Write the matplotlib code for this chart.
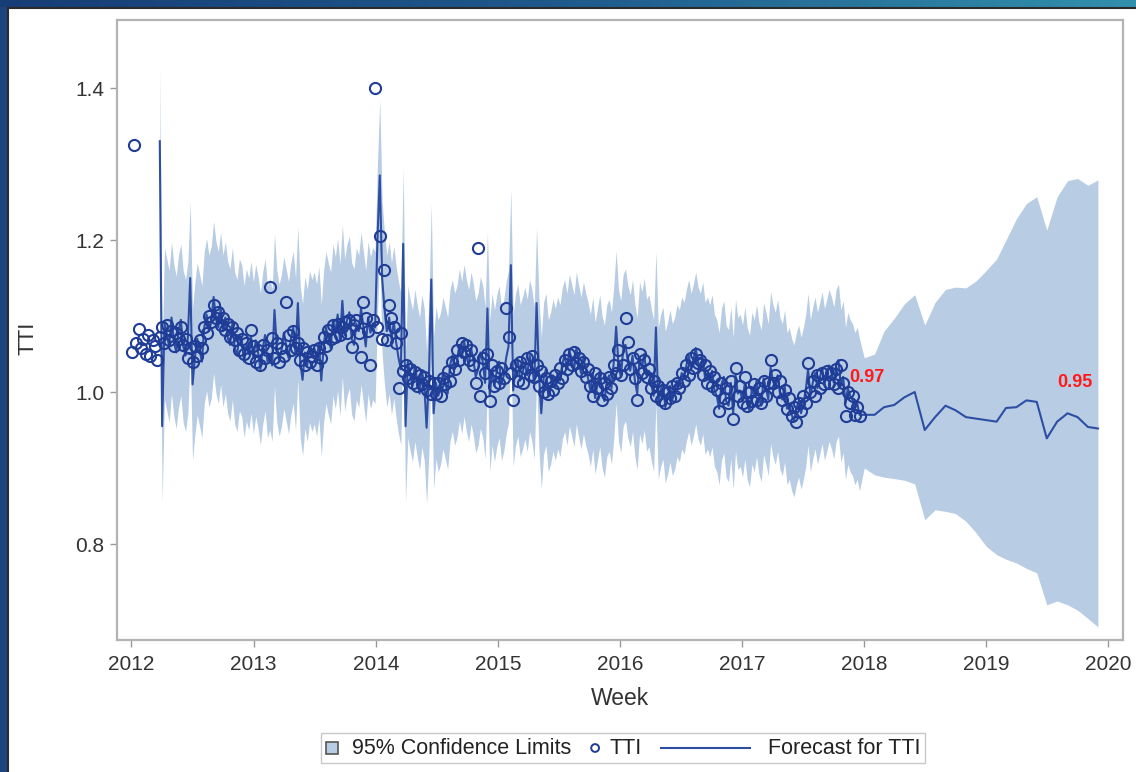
import matplotlib.pyplot as plt
import matplotlib.dates as mdates
import numpy as np
import pandas as pd
from matplotlib.colors import LinearSegmentedColormap
from matplotlib.patches import Rectangle, Circle
from matplotlib.lines import Line2D
from matplotlib.offsetbox import AnchoredOffsetbox, DrawingArea, HPacker, TextArea

plt.rcParams["font.family"] = ["Liberation Sans", "DejaVu Sans"]

# weekly observed TTI, 13 weeks per row (one quarter), starting 2012-01-02
tti_2012 = [1.052, 1.325, 1.065, 1.083, 1.058, 1.070, 1.050, 1.075, 1.048, 1.068, 1.060, 1.042, 1.072,
            1.085, 1.065, 1.088, 1.068, 1.080, 1.060, 1.078, 1.070, 1.085, 1.062, 1.070, 1.045, 1.058,
            1.040, 1.060, 1.048, 1.068, 1.058, 1.085, 1.078, 1.100, 1.092, 1.114, 1.098, 1.105, 1.088,
            1.098, 1.082, 1.090, 1.072, 1.085, 1.068, 1.078, 1.055, 1.070, 1.050, 1.065, 1.045, 1.082]
tti_2013 = [1.060, 1.040, 1.055, 1.035, 1.062, 1.045, 1.055, 1.138, 1.071, 1.045, 1.065, 1.040, 1.058,
            1.048, 1.118, 1.075, 1.055, 1.080, 1.058, 1.065, 1.042, 1.058, 1.035, 1.052, 1.040, 1.048,
            1.055, 1.035, 1.058, 1.045, 1.072, 1.060, 1.082, 1.070, 1.088, 1.072, 1.090, 1.075, 1.085,
            1.092, 1.078, 1.095, 1.059, 1.088, 1.095, 1.078, 1.046, 1.118, 1.098, 1.080, 1.035, 1.095]
tti_2014 = [1.400, 1.085, 1.205, 1.070, 1.160, 1.068, 1.115, 1.097, 1.085, 1.065, 1.005, 1.078, 1.028,
            1.035, 1.018, 1.030, 1.012, 1.026, 1.008, 1.022, 1.010, 1.020, 1.002, 1.015, 0.998, 1.012,
            0.998, 1.012, 0.995, 1.018, 1.010, 1.028, 1.015, 1.040, 1.030, 1.055, 1.042, 1.065, 1.052,
            1.062, 1.042, 1.055, 1.035, 1.012, 1.190, 0.995, 1.045, 1.025, 1.050, 0.988, 1.035, 1.008]
tti_2015 = [1.028, 1.012, 1.032, 1.018, 1.110, 1.072, 1.025, 0.990, 1.035, 1.015, 1.040, 1.012, 1.032,
            1.045, 1.022, 1.048, 1.020, 1.035, 1.008, 1.028, 1.000, 1.018, 0.998, 1.015, 1.002, 1.022,
            1.012, 1.032, 1.018, 1.042, 1.030, 1.050, 1.035, 1.052, 1.038, 1.045, 1.028, 1.040, 1.020,
            1.030, 1.008, 0.995, 1.025, 1.005, 1.018, 0.990, 1.012, 0.998, 1.020, 1.005, 1.035, 1.025]
tti_2016 = [1.055, 1.022, 1.035, 1.098, 1.066, 1.030, 1.045, 1.018, 0.990, 1.050, 1.025, 1.042, 1.020,
            1.030, 1.005, 1.015, 0.995, 1.008, 0.990, 1.002, 0.985, 1.000, 0.992, 1.008, 0.995, 1.012,
            1.005, 1.025, 1.015, 1.035, 1.022, 1.045, 1.032, 1.050, 1.038, 1.042, 1.022, 1.035, 1.012,
            1.028, 1.008, 1.020, 1.002, 0.975, 1.012, 0.992, 1.005, 0.985, 1.015, 0.965, 1.032, 0.995]
tti_2017 = [1.008, 0.985, 1.020, 0.982, 1.000, 0.988, 1.010, 0.990, 1.005, 0.985, 1.015, 0.995, 1.012,
            1.042, 1.012, 1.022, 1.000, 1.015, 0.990, 1.002, 0.978, 0.992, 0.968, 0.980, 0.960, 0.985,
            0.975, 0.995, 0.985, 1.038, 1.000, 1.015, 0.995, 1.022, 1.005, 1.025, 1.010, 1.028, 1.012,
            1.025, 1.010, 1.030, 1.005, 1.035, 1.012, 0.968, 1.000, 0.985, 0.995, 0.970, 0.980, 0.968]

# one-step-ahead forecast, weekly, starting at week 12 of 2012
fc_2012 = [1.330,
           0.955, 1.090, 1.075, 1.060, 1.098, 1.068, 1.052, 1.080, 1.095, 1.060, 1.048, 1.072, 1.150,
           1.010, 1.045, 1.070, 1.055, 1.040, 1.085, 1.102, 1.080, 1.092, 1.125, 1.098, 1.085, 1.110,
           1.080, 1.098, 1.072, 1.062, 1.090, 1.058, 1.048, 1.075, 1.068, 1.040, 1.062, 1.050, 1.072]
fc_2013 = [1.045, 1.068, 1.052, 1.030, 1.058, 1.075, 1.040, 1.050, 1.035, 1.108, 1.060, 1.042, 1.055,
           1.078, 1.062, 1.045, 1.070, 1.085, 1.050, 1.117, 1.040, 1.016, 1.052, 1.035, 1.060, 1.048,
           1.058, 1.042, 1.065, 1.015, 1.060, 1.085, 1.070, 1.058, 1.095, 1.078, 1.102, 1.068, 1.120,
           1.075, 1.095, 1.105, 1.070, 1.062, 1.090, 1.080, 1.110, 1.085, 1.060, 1.098, 1.078, 1.090]
fc_2014 = [1.085, 1.200, 1.285, 1.150, 1.110, 1.080, 1.098, 1.070, 1.092, 1.065, 1.045, 1.030, 1.195,
           0.955, 1.040, 1.022, 1.008, 1.035, 1.015, 0.998, 1.028, 1.010, 0.953, 1.020, 1.148, 0.972,
           1.012, 0.995, 1.005, 1.025, 1.012, 0.998, 1.035, 1.048, 1.030, 1.040, 1.062, 1.045, 1.068,
           1.048, 1.035, 1.058, 1.042, 1.020, 1.030, 1.052, 1.040, 1.012, 1.110, 0.995, 1.030, 1.008]
fc_2015 = [1.028, 1.040, 1.010, 1.022, 1.045, 1.060, 1.167, 1.002, 1.030, 1.042, 1.015, 1.025, 1.038,
           1.022, 1.048, 1.035, 1.012, 1.117, 1.025, 0.972, 1.018, 1.030, 0.995, 1.005, 1.022, 1.010,
           1.025, 1.015, 1.038, 1.048, 1.030, 1.055, 1.042, 1.028, 1.058, 1.040, 1.025, 1.045, 1.030,
           1.018, 1.002, 1.025, 0.992, 1.010, 1.028, 1.000, 0.988, 1.015, 1.022, 1.005, 1.040, 1.086]
fc_2016 = [1.035, 1.020, 1.055, 1.062, 1.040, 1.028, 1.048, 1.015, 0.998, 1.045, 1.032, 1.050, 1.022,
           1.028, 1.010, 0.995, 1.085, 0.985, 1.002, 1.012, 0.980, 0.992, 1.008, 0.990, 0.998, 1.015,
           1.008, 1.025, 1.018, 1.035, 1.048, 1.030, 1.042, 1.058, 1.038, 1.030, 1.045, 1.018, 1.025,
           1.015, 1.028, 1.002, 0.995, 0.978, 1.010, 1.020, 0.988, 0.982, 1.012, 0.972, 1.022, 0.998]
fc_2017 = [1.002, 0.988, 1.012, 0.985, 0.975, 1.005, 0.995, 1.015, 0.992, 0.982, 1.018, 1.005, 0.990,
           1.032, 1.015, 1.005, 1.022, 0.998, 0.990, 1.008, 0.978, 0.985, 0.970, 0.962, 0.978, 0.988,
           0.972, 0.985, 1.002, 1.030, 0.995, 1.012, 1.025, 1.005, 1.018, 1.032, 1.010, 1.022, 1.035,
           1.025, 1.012, 1.035, 1.042, 1.008, 1.020, 0.985, 1.005, 0.995, 0.990, 0.978, 0.985, 0.970]
ci_half_width = 0.10  # in-sample 95% limits around the forecast

# monthly forecast beyond the data, Jan 2018 - Dec 2019
fc_future = [0.970, 0.970, 0.980, 0.983, 0.993, 1.000, 0.950, 0.967, 0.982, 0.976, 0.967, 0.965,
             0.963, 0.961, 0.979, 0.980, 0.989, 0.987, 0.939, 0.961, 0.972, 0.967, 0.954, 0.952]
lo_future = [0.900, 0.891, 0.888, 0.886, 0.884, 0.879, 0.832, 0.845, 0.843, 0.840, 0.830, 0.815,
             0.797, 0.786, 0.780, 0.775, 0.768, 0.762, 0.720, 0.725, 0.720, 0.713, 0.702, 0.691]
hi_future = [1.045, 1.050, 1.080, 1.097, 1.116, 1.128, 1.088, 1.118, 1.135, 1.138, 1.137, 1.146,
             1.160, 1.175, 1.200, 1.228, 1.248, 1.257, 1.213, 1.257, 1.278, 1.281, 1.272, 1.279]

tti = np.array(tti_2012 + tti_2013 + tti_2014 + tti_2015 + tti_2016 + tti_2017)
fc_in = np.array(fc_2012 + fc_2013 + fc_2014 + fc_2015 + fc_2016 + fc_2017)
weeks = pd.date_range("2012-01-02", periods=len(tti), freq="7D")
fc_weeks = weeks[len(weeks) - len(fc_in):]
months = pd.date_range("2018-01-01", periods=len(fc_future), freq="MS")

band_x = fc_weeks.append(months)
band_lo = np.concatenate([fc_in - ci_half_width, lo_future])
band_hi = np.concatenate([fc_in + ci_half_width, hi_future])
fc_all = np.concatenate([fc_in, fc_future])

band_col = "#b8cce4"
dark_blue = "#1f3c96"
line_blue = "#2c4ea3"

W, H = 1136, 772
fig = plt.figure(figsize=(W / 100, H / 100), dpi=100, facecolor="#1c4580")

# gradient strip at the top of the slide
ax_top = fig.add_axes([0, 1 - 7 / H, 1, 7 / H], zorder=-10)
grad = LinearSegmentedColormap.from_list("g", ["#173d76", "#1f5a8c", "#3290ad"])
ax_top.imshow(np.linspace(0, 1, 256)[None, :], cmap=grad, aspect="auto")
ax_top.axis("off")

# white panel
fig.add_artist(Rectangle((8 / W, -0.01), 1, 1 - 8 / H + 0.01, transform=fig.transFigure,
                         facecolor="white", edgecolor="#2b2b2b", lw=1.5, zorder=-5))

ax = fig.add_axes([117 / W, 1 - 640 / H, (1123 - 117) / W, (640 - 20) / H])
ax.fill_between(band_x, band_lo, band_hi, color=band_col, lw=0, zorder=1)
ax.plot(band_x, fc_all, color=line_blue, lw=1.5, zorder=2)
ax.plot(weeks, tti, ls="none", marker="o", ms=8, mfc="none", mec=dark_blue, mew=1.5, zorder=3)

ax.annotate(f"{fc_future[0]:.2f}", xy=(months[0], fc_future[0]), xytext=(-11, 27),
            textcoords="offset points", ha="left", va="center", color="#ff1a1a",
            fontsize=13, fontweight="bold")
ax.annotate(f"{fc_future[-1]:.2f}", xy=(months[-1], fc_future[-1]), xytext=(-4, 33),
            textcoords="offset points", ha="right", va="center", color="#ff1a1a",
            fontsize=13, fontweight="bold")

ax.set_xlim(pd.Timestamp("2011-11-19"), pd.Timestamp("2020-02-14"))
ax.set_ylim(0.6737, 1.4895)
ax.xaxis.set_major_locator(mdates.YearLocator())
ax.xaxis.set_major_formatter(mdates.DateFormatter("%Y"))
ax.set_yticks([0.8, 1.0, 1.2, 1.4])
ax.set_yticklabels(["0.8", "1.0", "1.2", "1.4"])
ax.tick_params(direction="out", length=5, width=1, color="#999999",
               labelsize=15, labelcolor="#333333", pad=4)
ax.tick_params(axis="x", pad=6)
for s in ax.spines.values():
    s.set_color("#b3b3b3")
    s.set_linewidth(1.6)

ax.set_xlabel("Week", fontsize=16.5, color="#333333", labelpad=9)
ax.set_ylabel("TTI", fontsize=16, color="#333333")
ax.yaxis.set_label_coords(-0.078, 0.487)

# legend row
fs = 15.5
da_sq = DrawingArea(9, 9, 0, 0)
da_sq.add_artist(Rectangle((0, 0), 9, 9, facecolor=band_col, edgecolor="#555555", lw=1.2))
da_ci = DrawingArea(6.5, 9, 0, 0)
da_ci.add_artist(Circle((3.25, 4.5), 2.8, facecolor="none", edgecolor=dark_blue, lw=1.4))
da_ln = DrawingArea(64, 9, 0, 0)
da_ln.add_artist(Line2D([0, 64], [4.5, 4.5], color=line_blue, lw=1.5))
txt = dict(color="#222222", fontsize=fs)
items = HPacker(children=[
    HPacker(children=[da_sq, TextArea("95% Confidence Limits", textprops=txt)], sep=10, align="center"),
    HPacker(children=[da_ci, TextArea("TTI", textprops=txt)], sep=7, align="center"),
    HPacker(children=[da_ln, TextArea("Forecast for TTI", textprops=txt)], sep=13, align="center"),
], sep=14, align="center")
leg = AnchoredOffsetbox(loc="center", child=items, pad=0.35, borderpad=0, frameon=True,
                        bbox_to_anchor=(623 / W, 1 - 748 / H), bbox_transform=fig.transFigure)
leg.patch.set_edgecolor("#c8c8c8")
leg.patch.set_linewidth(1)
fig.add_artist(leg)

plt.savefig("out.png", dpi=100, facecolor=fig.get_facecolor())
plt.close()
